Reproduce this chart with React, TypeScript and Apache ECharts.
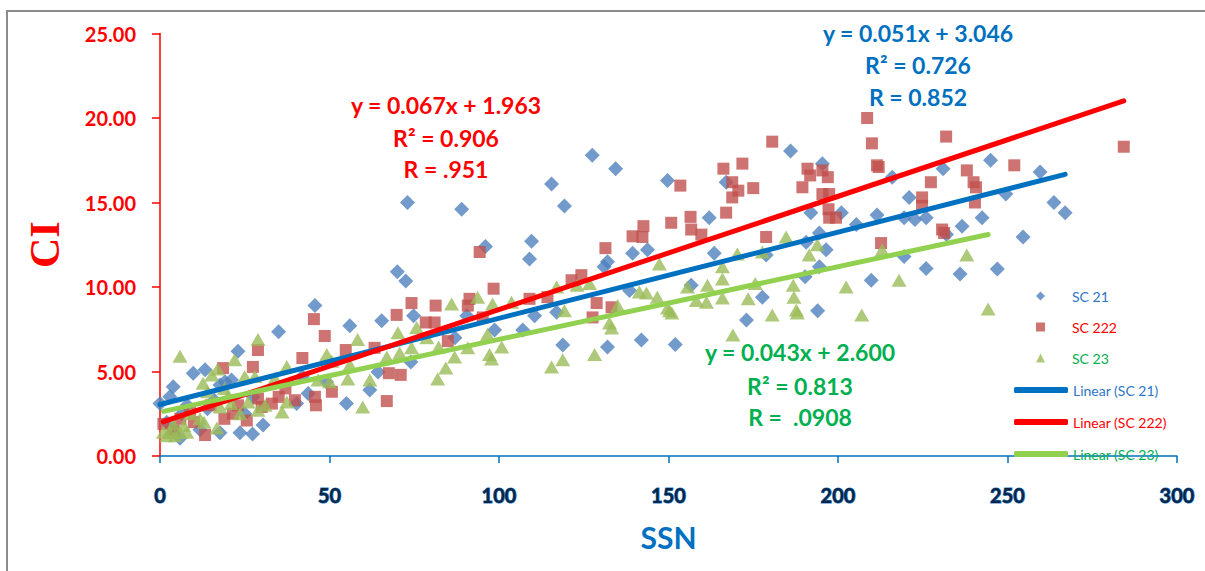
import { useEffect, useRef } from "react";
import * as echarts from "echarts";

// SC 21 (blue diamonds): [SSN, CI]
const sc21: [number, number][] = [
  [0, 3.1], [2.9, 3.5], [3.9, 4.1], [5.9, 1.05], [2, 2.0], [4, 1.6], [6.5, 2.5], [8, 3.0],
  [9.8, 4.9], [13.3, 5.1], [11.8, 1.55], [14, 2.8], [16, 3.3], [17.7, 1.38], [17.7, 4.2],
  [19.2, 4.4], [21.1, 4.5], [23, 6.2], [23.6, 1.38], [25, 2.5], [27.3, 1.3], [27.5, 3.5],
  [30.4, 1.84], [35, 7.35], [40.3, 3.1], [42, 4.7], [43.7, 3.7], [45.7, 8.9], [49.1, 4.4],
  [55, 3.1], [56, 7.7], [61.9, 3.9], [64.3, 4.97], [65.4, 8.0], [70, 10.9], [72.5, 10.36],
  [73, 15.0], [74, 5.56], [74.8, 8.3], [87, 7.0], [89, 14.6], [90.5, 8.3], [96, 12.4],
  [98.7, 7.45], [107, 7.45], [109, 11.65], [109.6, 12.7], [110.5, 8.3], [115.5, 16.1],
  [117, 8.5], [118.8, 6.57], [119.3, 14.8], [127.5, 17.8], [131, 11.2], [132, 11.5],
  [132, 6.45], [134.4, 17.0], [138.5, 9.8], [139.4, 12.0], [142, 6.86], [143.8, 12.2],
  [149.7, 16.3], [152, 6.6], [156.7, 10.1], [162, 14.1], [163.5, 12.0], [167, 16.2],
  [173, 8.05], [177.7, 9.4], [178.8, 11.9], [186, 18.05], [190.3, 10.6], [190.6, 12.65],
  [192, 14.4], [194, 8.6], [194.5, 13.2], [194.5, 11.2], [195.4, 17.3], [196.5, 12.2],
  [201, 14.4], [205.4, 13.7], [209.8, 10.4], [211.5, 14.26], [216, 16.5], [219.5, 14.1],
  [219.5, 11.8], [221, 15.3], [222.7, 14.0], [226, 14.1], [226, 11.1], [231, 17.0],
  [232, 13.1], [236, 10.77], [236.6, 13.6], [242.5, 14.1], [245, 17.5], [247, 11.07],
  [249.5, 15.5], [254.6, 12.96], [259.6, 16.8], [263.7, 15.0], [267, 14.4],
];

// SC 222 (red squares)
const sc222: [number, number][] = [
  [1, 1.9], [4, 1.5], [6, 2.2], [8.8, 2.7], [10, 2.0], [13.3, 1.24], [15, 3.0], [18.6, 5.2],
  [19, 2.2], [21.5, 2.5], [23, 3.0], [25.6, 2.1], [27.4, 5.27], [28.9, 6.27], [28.9, 3.4],
  [30, 2.9], [33, 3.1], [35, 3.5], [37, 4.0], [39.8, 3.3], [42, 5.8], [45.4, 8.1], [45.7, 3.5],
  [46, 3.0], [48.6, 7.1], [50.7, 3.8], [54.8, 6.27], [63.3, 6.4], [66.9, 3.25], [67.5, 4.9],
  [69.8, 8.35], [71, 4.8], [74.2, 9.05], [78.4, 7.9], [81, 7.9], [81.3, 8.9], [84.9, 6.8],
  [90.8, 8.9], [91.3, 9.3], [94.3, 12.07], [95.2, 8.2], [98.4, 9.9], [109, 9.3], [114.3, 9.4],
  [121.4, 10.4], [124.3, 10.7], [127.6, 8.2], [128.8, 9.05], [131.4, 12.3], [133.2, 8.8],
  [139.4, 13.0], [142.3, 12.96], [142.6, 13.6], [150.8, 13.8], [153.5, 16.0], [156.5, 14.15],
  [156.7, 13.4], [159.7, 13.1], [166.2, 17.0], [167, 14.4], [168.8, 16.2], [168.8, 15.3],
  [170.6, 15.7], [171.8, 17.3], [175, 15.85], [178.8, 12.96], [180.6, 18.6], [189.5, 15.9],
  [191, 17.0], [191.8, 16.6], [195.4, 16.9], [195.4, 15.5], [197, 16.5], [197.4, 15.5],
  [197.2, 14.6], [197.4, 14.1], [199.4, 14.1], [208.6, 20.0], [210, 18.5], [211.5, 17.2],
  [212, 17.1], [212.7, 12.6], [224.8, 15.3], [224.8, 14.8], [227.4, 16.2], [230.7, 13.4],
  [231.3, 13.2], [231.9, 18.9], [238, 16.9], [240, 16.2], [240.4, 15.0], [240.7, 15.9],
  [252, 17.2], [284.3, 18.3],
];

// SC 23 (green triangles)
const sc23: [number, number][] = [
  [1, 1.4], [2, 1.2], [2.9, 1.4], [3.9, 1.9], [4.5, 1.2], [5.9, 1.4], [5.9, 5.9], [7, 1.8],
  [7.9, 1.4], [9, 2.5], [11.8, 2.2], [12.7, 4.3], [13, 2.0], [14, 3.8], [15.3, 4.8],
  [16.8, 1.66], [17, 5.15], [17.7, 2.9], [19, 4.0], [20, 3.5], [21, 3.1], [22, 5.7],
  [23.6, 2.5], [25, 4.7], [26, 3.2], [28, 4.7], [28.9, 6.9], [28.9, 2.7], [31, 3.0],
  [33.9, 4.6], [36, 2.6], [37.4, 5.3], [37.4, 3.2], [46.6, 4.5], [49.2, 6.0], [50, 4.4],
  [50.7, 5.6], [55.4, 4.55], [56, 5.4], [58.3, 6.9], [59.8, 2.9], [61.9, 4.5], [66.9, 5.86],
  [70.2, 7.3], [70.7, 6.1], [74.2, 6.4], [75.7, 7.6], [78.7, 7.0], [81.9, 4.55], [82.2, 6.45],
  [84.3, 5.2], [86, 9.0], [86.9, 5.86], [90.8, 6.4], [93.7, 9.4], [96.6, 7.2], [97.2, 6.0],
  [97.8, 5.74], [98.1, 9.0], [100.8, 6.45], [103.7, 9.1], [115.5, 5.27], [117, 10.0],
  [118.8, 5.7], [119.3, 8.6], [123, 10.1], [126.7, 10.2], [128.2, 6.0], [132.6, 7.87],
  [133.2, 7.57], [135, 8.9], [141.4, 9.7], [143.5, 9.64], [146.7, 9.4], [147.3, 11.36],
  [149.7, 8.76], [151, 8.46], [150.3, 8.6], [155.6, 10.0], [158.2, 9.2], [161.2, 9.1],
  [161.5, 10.1], [165.9, 11.2], [165.9, 10.47], [165.9, 9.35], [169, 7.16], [170.3, 11.95],
  [173.5, 9.3], [175.6, 10.2], [177.7, 12.07], [180.6, 8.35], [184.7, 12.96], [186.8, 10.1],
  [187, 9.4], [187.7, 8.64], [188, 8.46], [191.5, 11.9], [193.9, 12.5], [202.4, 10.0],
  [207, 8.35], [213, 12.2], [218, 10.4], [238, 11.9], [244.3, 8.7],
];

// Linear trend lines [slope, intercept], as shown in the equations
const trend21 = [0.051, 3.046];
const trend222 = [0.067, 1.963];
const trend23 = [0.043, 2.6];

const eq21 = ["y = 0.051x + 3.046", "R² = 0.726", "R = 0.852"];
const eq222 = ["y = 0.067x + 1.963", "R² = 0.906", "R = .951"];
const eq23 = ["y = 0.043x + 2.600", "R² = 0.813", "R =  .0908"];

const BLUE = "#0070C0";
const RED = "#FF0000";
const GREEN = "#00B050";

const ICON_DIAMOND = "path://M5,0L10,5L5,10L0,5Z";
const ICON_SQUARE = "path://M0,0H10V10H0Z";
const ICON_TRIANGLE = "path://M5,0L10,10H0Z";

function trendData(pts: [number, number][], t: number[]) {
  const xs = pts.map((p) => p[0]);
  const x0 = Math.min(...xs);
  const x1 = Math.max(...xs);
  return [
    [x0, t[0] * x0 + t[1]],
    [x1, t[0] * x1 + t[1]],
  ];
}

function eqTexts(lines: string[], cx: number, ys: number[], color: string) {
  return lines.map((t, i) => ({
    type: "text",
    x: cx,
    y: ys[i],
    z: 100,
    style: {
      text: t,
      fill: color,
      font: "bold 23px Lato",
      align: "center",
      verticalAlign: "middle",
    },
  }));
}

export default function App() {
  const ref = useRef<HTMLDivElement>(null);
  useEffect(() => {
    if (!ref.current) return;
    const chart = echarts.init(ref.current, null, { renderer: "svg" });
    const font = "Lato";
    chart.setOption({
      animation: false,
      backgroundColor: "#ffffff",
      grid: { left: 160, right: 28, top: 33.5, bottom: 115, outerBoundsMode: "none" },
      xAxis: {
        type: "value",
        min: 0,
        max: 300,
        interval: 50,
        name: "SSN",
        nameLocation: "middle",
        nameGap: 66,
        nameTextStyle: { color: BLUE, fontFamily: font, fontWeight: "bold", fontSize: 30 },
        axisLine: { lineStyle: { color: BLUE, width: 1.5 } },
        axisTick: { show: true, length: 7, lineStyle: { color: BLUE, width: 1.5 } },
        splitLine: { show: false },
        axisLabel: {
          margin: 29,
          color: "#0B2545",
          fontFamily: font,
          fontWeight: "bold",
          fontSize: 20,
          textBorderColor: "#2A7FD0",
          textBorderWidth: 1.2,
        },
      },
      yAxis: {
        type: "value",
        min: 0,
        max: 25,
        interval: 5,
        name: "CI",
        nameLocation: "middle",
        nameGap: 94,
        nameTextStyle: { color: RED, fontFamily: "Liberation Serif", fontWeight: "bold", fontSize: 42 },
        axisLine: { show: true, lineStyle: { color: RED, width: 1.5 } },
        axisTick: { show: true, length: 8, lineStyle: { color: RED, width: 1.5 } },
        splitLine: { show: false },
        axisLabel: {
          margin: 24,
          color: RED,
          fontFamily: font,
          fontWeight: "bold",
          fontSize: 20,
          formatter: (v: number) => v.toFixed(2),
        },
      },
      legend: [
        {
          orient: "vertical",
          left: 1031,
          top: 283,
          itemWidth: 53,
          itemHeight: 9,
          itemGap: 15,
          symbolKeepAspect: true,
          selectedMode: false,
          textStyle: { fontFamily: font, fontSize: 14, lineHeight: 16 },
          data: [
            { name: "SC 21", icon: ICON_DIAMOND, textStyle: { color: "#2E75C6" } },
            { name: "SC 222", icon: ICON_SQUARE, textStyle: { color: RED } },
            { name: "SC 23", icon: ICON_TRIANGLE, textStyle: { color: GREEN } },
          ],
        },
        {
          orient: "vertical",
          left: 1009,
          top: 377,
          itemWidth: 54,
          itemHeight: 6,
          itemGap: 16,
          selectedMode: false,
          textStyle: { fontFamily: font, fontSize: 14, lineHeight: 16 },
          data: [
            { name: "Linear (SC 21)", icon: "roundRect", textStyle: { color: "#2E75C6" } },
            { name: "Linear (SC 222)", icon: "roundRect", textStyle: { color: RED } },
            { name: "Linear (SC 23)", icon: "roundRect", textStyle: { color: GREEN } },
          ],
        },
      ],
      series: [
        {
          name: "SC 21",
          type: "scatter",
          symbol: "diamond",
          symbolSize: 15,
          itemStyle: { color: "#4F81BD" },
          data: sc21,
          z: 2,
        },
        {
          name: "SC 222",
          type: "scatter",
          symbol: "rect",
          symbolSize: 12,
          itemStyle: { color: "#C0504D" },
          data: sc222,
          z: 2,
        },
        {
          name: "SC 23",
          type: "scatter",
          symbol: "triangle",
          symbolSize: [15, 13],
          itemStyle: { color: "#9BBB59" },
          data: sc23,
          z: 2,
        },
        {
          name: "Linear (SC 21)",
          type: "line",
          symbol: "none",
          data: trendData(sc21, trend21),
          lineStyle: { color: BLUE, width: 5, cap: "round" },
          itemStyle: { color: BLUE },
          z: 3,
        },
        {
          name: "Linear (SC 222)",
          type: "line",
          symbol: "none",
          data: trendData(sc222, trend222),
          lineStyle: { color: RED, width: 5, cap: "round" },
          itemStyle: { color: RED },
          z: 3,
        },
        {
          name: "Linear (SC 23)",
          type: "line",
          symbol: "none",
          data: trendData(sc23, trend23),
          lineStyle: { color: "#92D050", width: 5, cap: "round" },
          itemStyle: { color: "#92D050" },
          z: 3,
        },
      ],
      graphic: [
        {
          type: "rect",
          shape: { x: 7, y: 11, width: 1400, height: 800 },
          style: { fill: "none", stroke: "#8C8C8C", lineWidth: 2 },
          z: -1,
          silent: true,
        },
        ...eqTexts(eq21, 918, [33, 65, 97], BLUE),
        ...eqTexts(eq222, 446, [105, 138, 169], RED),
        ...eqTexts(eq23, 800, [352, 386, 417], GREEN),
      ],
    });
    return () => chart.dispose();
  }, []);
  return (
    <div
      ref={ref}
      style={{ position: "fixed", left: 0, top: 0, width: 1205, height: 571 }}
    />
  );
}
